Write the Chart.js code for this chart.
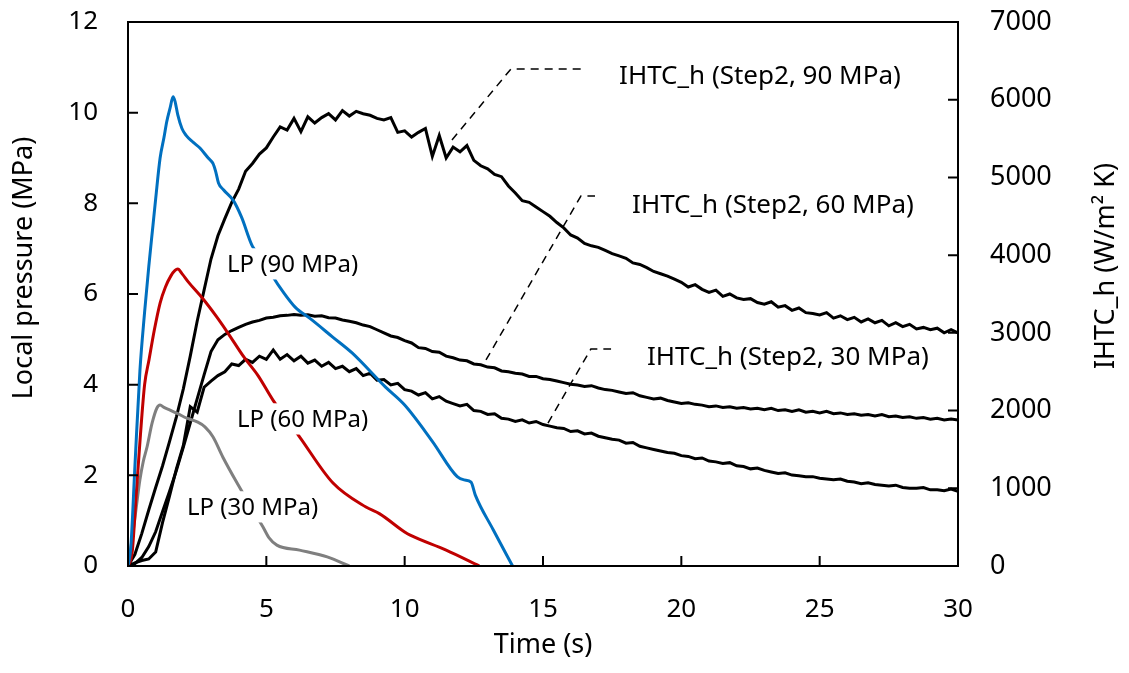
<!DOCTYPE html>
<html>
<head>
<meta charset="utf-8">
<script src="https://cdn.jsdelivr.net/npm/chart.js@4.4.1/dist/chart.umd.min.js"></script>
<style>
  html, body { margin: 0; padding: 0; background: #fff; }
  #wrap { width: 1129px; height: 673px; }
</style>
</head>
<body>
<div id="wrap"><canvas id="c" width="1129" height="673"></canvas></div>
<script>
// ---- Local pressure (MPa) vs time (s) ----
const lp90Time = [0,0.1,0.25,0.43,0.6,0.75,0.9,1.0,1.16,1.3,1.4,1.52,1.63,1.7,1.8,1.95,2.1,2.35,2.6,2.9,3.07,3.17,3.27,3.45,3.8,4.1,4.5,4.9,5.24,5.6,6.04,6.6,7.4,8.1,9.3,10.0,11.0,11.9,12.15,12.4,12.55,13.2,13.9];
const lp90 = [0,0.4,2.2,4.3,5.6,6.6,7.5,8.1,9.0,9.45,9.8,10.1,10.35,10.25,9.95,9.65,9.5,9.35,9.22,9.0,8.88,8.7,8.45,8.3,8.07,7.7,7.05,6.75,6.38,6.05,5.71,5.45,5.05,4.7,3.95,3.55,2.75,1.97,1.9,1.85,1.57,0.8,0];

const lp60Time = [0,0.15,0.3,0.45,0.6,0.76,0.95,1.16,1.35,1.55,1.7,1.8,1.95,2.2,2.7,3.2,3.6,4.2,4.7,5.24,6.2,7.41,8.6,9.1,10.0,10.2,11.5,12.7];
const lp60 = [0,0.3,1.6,2.9,4.0,4.55,5.2,5.8,6.15,6.4,6.52,6.55,6.45,6.25,5.9,5.5,5.15,4.6,4.2,3.66,2.85,1.83,1.3,1.15,0.75,0.68,0.35,0];

const lp30Time = [0,0.15,0.3,0.43,0.55,0.69,0.87,1.05,1.16,1.3,1.52,1.8,2.13,2.5,2.78,3.07,3.43,3.98,4.4,4.88,5.1,5.38,6.2,7.2,8.0];
const lp30 = [0,0.6,1.3,1.9,2.3,2.63,3.15,3.49,3.55,3.5,3.44,3.36,3.26,3.18,3.07,2.85,2.4,1.79,1.35,0.86,0.62,0.46,0.35,0.2,0];

// ---- IHTC_h (W/m2 K) vs time (s), Step 2 ----
const ihtcTime = [0,0.25,0.5,0.75,1,1.25,1.5,1.75,2,2.25,2.5,2.75,3,3.25,3.5,3.75,4,4.25,4.5,4.75,5,5.25,5.5,5.75,6,6.25,6.5,6.75,7,7.25,7.5,7.75,8,8.25,8.5,8.75,9,9.25,9.5,9.75,10,10.25,10.5,10.75,11,11.25,11.5,11.75,12,12.25,12.5,12.75,13,13.25,13.5,13.75,14,14.25,14.5,14.75,15,15.25,15.5,15.75,16,16.25,16.5,16.75,17,17.25,17.5,17.75,18,18.25,18.5,18.75,19,19.25,19.5,19.75,20,20.25,20.5,20.75,21,21.25,21.5,21.75,22,22.25,22.5,22.75,23,23.25,23.5,23.75,24,24.25,24.5,24.75,25,25.25,25.5,25.75,26,26.25,26.5,26.75,27,27.25,27.5,27.75,28,28.25,28.5,28.75,29,29.25,29.5,29.75,30];

const ihtc90 = [
  0,150,420,720,1010,1290,1600,1920,2280,2700,3150,3550,
  3950,4250,4470,4680,4850,5080,5180,5300,5380,5520,5650,5610,
  5760,5590,5780,5700,5770,5820,5740,5860,5790,5850,5820,5800,
  5760,5740,5770,5580,5600,5520,5580,5630,5270,5540,5250,5390,
  5330,5410,5220,5150,5110,5040,5010,4890,4800,4700,4680,4620,
  4560,4500,4420,4350,4260,4220,4150,4120,4100,4060,4020,3990,
  3960,3900,3880,3840,3790,3760,3730,3690,3650,3590,3620,3560,
  3520,3550,3470,3500,3450,3430,3440,3390,3370,3400,3330,3350,
  3290,3320,3260,3250,3230,3260,3190,3220,3170,3200,3140,3180,
  3130,3160,3090,3130,3080,3110,3050,3070,3040,3060,3000,3040,
  3000
];

const ihtc60 = [
  0,30,110,250,440,700,960,1230,1530,1840,2150,2460,
  2760,2910,2980,3030,3070,3110,3140,3160,3190,3200,3220,3225,
  3235,3228,3232,3215,3220,3195,3190,3165,3150,3130,3100,3080,
  3040,3000,2960,2940,2900,2870,2810,2800,2760,2750,2700,2680,
  2650,2640,2600,2590,2560,2550,2510,2500,2480,2470,2440,2440,
  2410,2400,2380,2360,2340,2330,2310,2320,2290,2270,2260,2240,
  2220,2230,2190,2170,2150,2160,2130,2110,2090,2100,2080,2070,
  2050,2060,2040,2050,2030,2040,2020,2030,2010,2030,2000,2010,
  1990,2010,1980,1990,1970,1990,1960,1970,1950,1960,1940,1950,
  1930,1950,1920,1930,1910,1920,1900,1910,1890,1900,1880,1890,
  1880
];

const ihtc30 = [
  0,40,70,90,180,560,900,1250,1550,2050,1980,2300,
  2380,2450,2500,2600,2580,2660,2620,2700,2660,2780,2660,2720,
  2640,2700,2610,2650,2570,2620,2540,2570,2500,2540,2450,2480,
  2390,2400,2330,2350,2270,2250,2200,2230,2150,2180,2120,2090,
  2060,2080,2000,1990,1950,1960,1900,1890,1860,1880,1840,1860,
  1820,1800,1780,1770,1730,1740,1700,1710,1670,1650,1630,1620,
  1580,1590,1540,1520,1500,1480,1460,1450,1420,1410,1380,1390,
  1350,1340,1320,1330,1290,1280,1250,1260,1230,1210,1190,1200,
  1170,1160,1150,1150,1130,1120,1110,1120,1090,1080,1060,1070,
  1050,1040,1030,1040,1010,1000,1000,1010,980,980,970,990,
  960
];

// ---- axis ranges and tick steps ----
const timeTicks = { min: 0, max: 30, step: 5 };
const pressureTicks = { min: 0, max: 12, step: 2 };
const ihtcTicks = { min: 0, max: 7000, step: 1000 };

// ---- annotation texts (anchored in data units) ----
const notes = [
  { text: 'IHTC_h (Step2, 90 MPa)', t: 17.75, v: 6202, axis: 'y2', size: 26 },
  { text: 'IHTC_h (Step2, 60 MPa)', t: 18.22, v: 4542, axis: 'y2', size: 26 },
  { text: 'IHTC_h (Step2, 30 MPa)', t: 18.76, v: 2586, axis: 'y2', size: 26 },
  { text: 'LP (90 MPa)', t: 3.58, v: 6.49, axis: 'y', size: 24 },
  { text: 'LP (60 MPa)', t: 3.94, v: 3.07, axis: 'y', size: 24 },
  { text: 'LP (30 MPa)', t: 2.13, v: 1.13, axis: 'y', size: 24 }
];
// dashed leader lines from each IHTC curve to its label (time, IHTC)
const leaders = [
  [[11.71, 5482], [13.84, 6395], [16.41, 6395]],
  [[12.94, 2651], [16.37, 4761], [16.88, 4761]],
  [[15.18, 1840], [16.73, 2792], [17.46, 2792]]
];

const FONT = '"Noto Sans", "Open Sans", "DejaVu Sans", sans-serif';
Chart.defaults.font.family = FONT;
Chart.defaults.color = '#000';

const pts = (xs, ys) => ys.map((y, i) => ({ x: xs[i], y }));

function lpSet(label, xs, ys, color) {
  return { label, data: pts(xs, ys), yAxisID: 'y', borderColor: color, borderWidth: 3,
           pointRadius: 0, fill: false, cubicInterpolationMode: 'monotone' };
}
function ihtcSet(label, ys) {
  return { label, data: pts(ihtcTime, ys), yAxisID: 'y2', borderColor: '#000', borderWidth: 3,
           pointRadius: 0, fill: false, tension: 0 };
}

const framePlugin = {
  id: 'frame',
  afterDatasetsDraw(chart) {
    const { ctx, chartArea: a, scales } = chart;
    const sx = scales.x;
    ctx.save();

    // leader lines
    ctx.strokeStyle = '#000';
    ctx.lineWidth = 1.5;
    ctx.setLineDash([8, 6]);
    leaders.forEach(line => {
      ctx.beginPath();
      line.forEach(([t, v], i) => {
        const px = sx.getPixelForValue(t), py = scales.y2.getPixelForValue(v);
        if (i) ctx.lineTo(px, py); else ctx.moveTo(px, py);
      });
      ctx.stroke();
    });
    ctx.setLineDash([]);

    // annotation texts on white boxes
    ctx.textAlign = 'left';
    ctx.textBaseline = 'alphabetic';
    notes.forEach(n => {
      ctx.font = n.size + 'px ' + FONT;
      const px = sx.getPixelForValue(n.t), py = scales[n.axis].getPixelForValue(n.v);
      const w = ctx.measureText(n.text).width;
      ctx.fillStyle = '#fff';
      ctx.fillRect(px - 4, py - n.size * 0.98, w + 8, n.size * 1.3);
      ctx.fillStyle = '#000';
      ctx.fillText(n.text, px, py);
    });

    // plot box
    ctx.strokeStyle = '#000';
    ctx.lineWidth = 2;
    ctx.strokeRect(a.left, a.top, a.right - a.left, a.bottom - a.top);

    // inward tick marks
    const len = 10;
    ctx.beginPath();
    scales.y.ticks.forEach(t => { const p = scales.y.getPixelForValue(t.value); ctx.moveTo(a.left, p); ctx.lineTo(a.left + len, p); });
    scales.y2.ticks.forEach(t => { const p = scales.y2.getPixelForValue(t.value); ctx.moveTo(a.right - len, p); ctx.lineTo(a.right, p); });
    sx.ticks.forEach(t => { const p = sx.getPixelForValue(t.value); ctx.moveTo(p, a.bottom); ctx.lineTo(p, a.bottom - len); });
    ctx.stroke();
    ctx.restore();
  },
  afterDraw(chart) {
    const { ctx, chartArea: a } = chart;
    ctx.save();
    ctx.fillStyle = '#000';
    ctx.font = '27px ' + FONT;
    ctx.textAlign = 'center';
    ctx.textBaseline = 'alphabetic';
    ctx.fillText('Time (s)', (a.left + a.right) / 2, 653);

    ctx.save();
    ctx.translate(32, 268);
    ctx.rotate(-Math.PI / 2);
    ctx.fillText('Local pressure (MPa)', 0, 0);
    ctx.restore();

    ctx.save();
    ctx.translate(1114, 266);
    ctx.rotate(-Math.PI / 2);
    ctx.fillText('IHTC_h (W/m\u00B2 K)', 0, 0);
    ctx.restore();
    ctx.restore();
  }
};

const noGrid = { display: false, drawTicks: false };
// fixed axis boxes so the plot area spans x 128..958, y 22..566
const fitX = s => { s.height = 107; s.paddingLeft = 0; s.paddingRight = 0; };
const fitY = w => s => { s.width = w; s.paddingTop = 0; s.paddingBottom = 0; };

new Chart(document.getElementById('c'), {
  type: 'line',
  data: {
    datasets: [
      lpSet('LP (90 MPa)', lp90Time, lp90, '#0070C0'),
      lpSet('LP (60 MPa)', lp60Time, lp60, '#C00000'),
      lpSet('LP (30 MPa)', lp30Time, lp30, '#7F7F7F'),
      ihtcSet('IHTC_h (Step2, 90 MPa)', ihtc90),
      ihtcSet('IHTC_h (Step2, 60 MPa)', ihtc60),
      ihtcSet('IHTC_h (Step2, 30 MPa)', ihtc30)
    ]
  },
  options: {
    responsive: false,
    animation: false,
    layout: { padding: { top: 22, left: 0, right: 0, bottom: 0 } },
    plugins: { legend: { display: false }, tooltip: { enabled: false } },
    scales: {
      x: {
        type: 'linear', min: timeTicks.min, max: timeTicks.max,
        grid: noGrid, border: { display: false },
        ticks: { stepSize: timeTicks.step, padding: 28, maxRotation: 0, font: { size: 26 }, callback: v => String(v) },
        afterFit: fitX
      },
      y: {
        position: 'left', min: pressureTicks.min, max: pressureTicks.max,
        grid: noGrid, border: { display: false },
        ticks: { stepSize: pressureTicks.step, padding: 30, font: { size: 26 }, callback: v => String(v) },
        afterFit: fitY(128)
      },
      y2: {
        position: 'right', min: ihtcTicks.min, max: ihtcTicks.max,
        grid: noGrid, border: { display: false },
        ticks: { stepSize: ihtcTicks.step, padding: 32, font: { size: 27 }, callback: v => String(v) },
        afterFit: fitY(171)
      }
    }
  },
  plugins: [framePlugin]
});
</script>
</body>
</html>
